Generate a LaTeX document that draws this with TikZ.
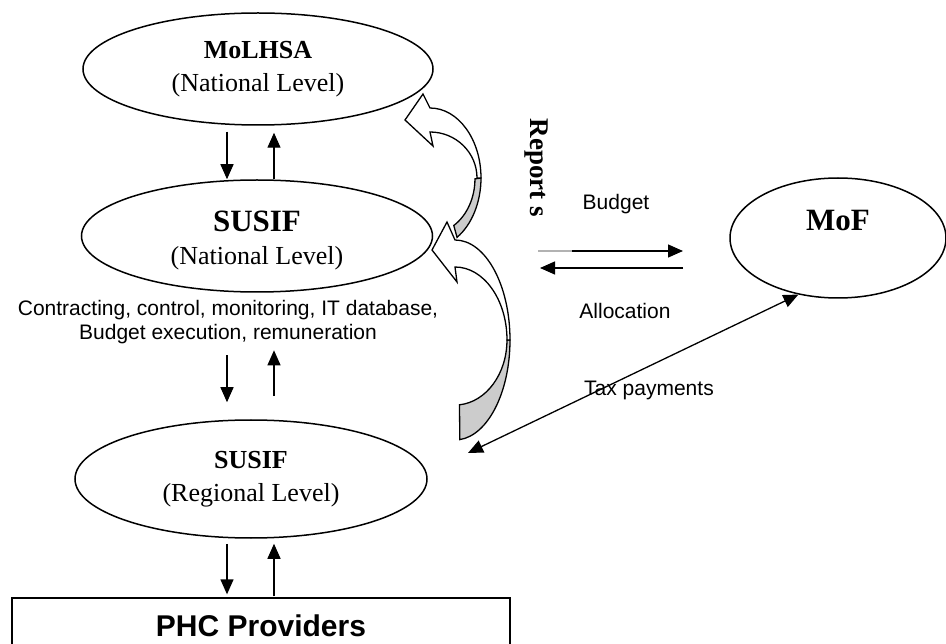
\documentclass[tikz,border=0pt]{standalone}
\usepackage{fontspec}
\setmainfont{Liberation Serif}
\setsansfont{Liberation Sans}
\usetikzlibrary{arrows.meta, shapes.geometric, calc}

\begin{document}
\begin{tikzpicture}[x=1pt, y=-1pt,
  oval/.style={ellipse, draw, line width=1.5pt, fill=white, inner sep=0pt,
               align=center, font=\fontsize{26}{33}\selectfont},
  big/.style={font=\bfseries\fontsize{31}{36}\selectfont},
  lbl/.style={font=\sffamily\fontsize{21}{24}\selectfont, align=center},
  tip/.style={-{Triangle[length=15pt, width=13pt]}, line width=1.3pt},
  bothtip/.style={{Triangle[length=15pt, width=13pt]}-{Triangle[length=15pt, width=13pt]}, line width=1.3pt},
  front/.style={draw, fill=white, line width=1.3pt},
  back/.style={draw, fill=gray!40, line width=1.3pt}
]
\useasboundingbox (0,0) rectangle (946,644);
\clip (0,0) rectangle (946,644);

% levels
\node[oval, minimum width=350pt, minimum height=112pt] (molhsa) at (258,69)
  {\textbf{MoLHSA}\\(National Level)};
\node[oval, minimum width=351pt, minimum height=112pt] (susifn) at (257,236)
  {\rule{0pt}{30pt}{\bfseries\fontsize{31}{36}\selectfont SUSIF}\\(National Level)};
\node[oval, minimum width=352pt, minimum height=118pt] (susifr) at (251,479)
  {\textbf{SUSIF}\\(Regional Level)};
\node[oval, big, minimum width=216pt, minimum height=120pt] (mof) at (838,238)
  {MoF\\~};
\node[draw, line width=1.3pt, minimum width=498pt, minimum height=56pt, inner sep=0pt,
      font=\sffamily\bfseries\fontsize{30}{36}\selectfont] (phc) at (261,626) {PHC Providers};

% texts
\node[lbl] (tasks) at (228,322) {Contracting, control, monitoring, IT database,\\Budget execution, remuneration};
\node[lbl] (budget) at (616,204) {Budget};
\node[lbl] (alloc) at (625,311) {Allocation};
\node[lbl] (tax) at (649,390) {Tax payments};
\node[font=\bfseries\fontsize{27}{30}\selectfont, rotate=-90] (reports) at (536,168) {Report s};

% vertical arrows
\coordinate (dnx) at (227,0);
\coordinate (upx) at (274,0);
\draw[tip, shorten <=6pt] (molhsa.south -| dnx) -- (susifn.north -| dnx);
\draw[tip, shorten >=7pt] (susifn.north -| upx) -- (molhsa.south -| upx);
\draw[tip, shorten <=8pt, shorten >=17pt] (tasks.south -| dnx) -- (susifr.north -| dnx);
\draw[tip, shorten <=23pt, shorten >=3pt] (susifr.north -| upx) -- (tasks.south -| upx);
\draw[tip, shorten <=5pt, shorten >=3pt] (susifr.south -| dnx) -- (phc.north -| dnx);
\draw[tip, shorten <=1pt, shorten >=5pt] (phc.north -| upx) -- (susifr.south -| upx);

% budget and allocation
\coordinate (b1) at (538,251);
\coordinate (b2) at (683,251);
\coordinate (a1) at (683,268);
\coordinate (a2) at (540,268);
\draw[tip] (b1) -- (b2);
\draw[gray!60, line width=1.3pt] (b1) -- ($(b1)+(34,0)$);
\draw[tip] (a1) -- (a2);

% tax payments
\coordinate (taxend) at (468,453);
\draw[bothtip] (taxend) -- (mof.235);

% curved report arrows
\path[back] (481,178) arc[start angle=0, end angle=58, x radius=51, y radius=70]
  -- (453.8,225.5) arc[start angle=58, end angle=0, x radius=45, y radius=55] -- cycle;
\path[front] (430,132) -- (433,146) -- (405,120) -- (423,94) -- (430,108)
  arc[start angle=-90, end angle=0, x radius=51, y radius=70]
  -- (477,178) arc[start angle=0, end angle=-90, x radius=47, y radius=46] -- cycle;
\path[back] (510,340) arc[start angle=0, end angle=85, x radius=55, y radius=100]
  -- (459.5,404.8) arc[start angle=85, end angle=0, x radius=52, y radius=65] -- cycle;
\path[front] (455,267) -- (457,282) -- (432,250) -- (447,222) -- (455,240)
  arc[start angle=-90, end angle=0, x radius=55, y radius=100]
  -- (507,340) arc[start angle=0, end angle=-90, x radius=52, y radius=73] -- cycle;

\end{tikzpicture}
\end{document}
